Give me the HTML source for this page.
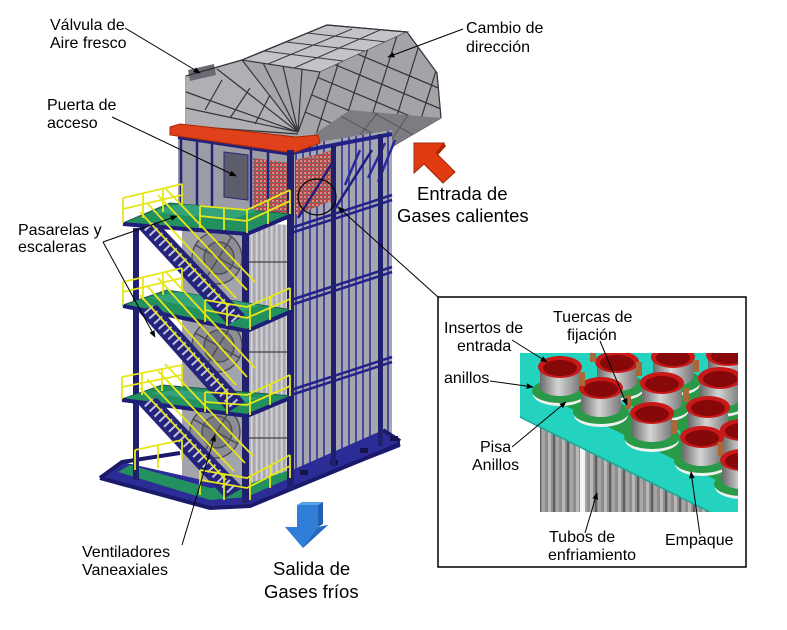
<!DOCTYPE html>
<html><head><meta charset="utf-8">
<style>
html,body{margin:0;padding:0;background:#fff;}
svg{display:block;}
text{font-family:"Liberation Sans",Arial,sans-serif;fill:#000;}
</style></head><body>
<svg width="787" height="630" viewBox="0 0 787 630" xmlns="http://www.w3.org/2000/svg">
<defs>
<marker id="ar" viewBox="0 0 10 10" refX="9" refY="5" markerWidth="8" markerHeight="7" orient="auto"><path d="M0,1 L10,5 L0,9 z" fill="#000"/></marker>
<clipPath id="hoodR"><polygon points="320,72 407,32 437,73 441,118 350,110 310,137 298,132"/></clipPath>
<clipPath id="hoodU"><polygon points="310,137 350,110 441,118 400,142 367,162"/></clipPath>
<clipPath id="rfc"><polygon points="291,150 318,142 392,130 392,442 291,488"/></clipPath>
<clipPath id="inset"><rect x="520" y="353" width="218" height="159"/></clipPath>
<pattern id="brick" width="4" height="4" patternUnits="userSpaceOnUse"><rect width="4" height="4" fill="#b44646"/><rect width="2" height="2" fill="#d88a8a"/><rect x="2" y="2" width="1" height="1" fill="#5a9a9a"/></pattern>
<pattern id="tubes" width="14" height="10" patternUnits="userSpaceOnUse"><rect width="14" height="10" fill="#8e8e8e"/><rect x="2" width="3" height="10" fill="#b8b8b8"/><rect x="7" width="2" height="10" fill="#5e5e5e"/><rect x="10" width="3" height="10" fill="#a6a6a6"/></pattern>
<pattern id="panel" width="5" height="10" patternUnits="userSpaceOnUse"><rect width="5" height="10" fill="#b6b6bc"/><rect x="1" width="1.5" height="10" fill="#d2d2d6"/><rect x="3.5" width="1" height="10" fill="#9a9aa2"/></pattern>
<linearGradient id="cyl" x1="0" x2="1" y1="0" y2="0"><stop offset="0" stop-color="#6a6a6a"/><stop offset="0.45" stop-color="#d4d4d4"/><stop offset="1" stop-color="#7a7a7a"/></linearGradient>
</defs>

<!-- ===== HOOD ===== -->
<polygon points="186,76 242,60 327,25 407,32 437,73 441,118 400,142 367,162 310,137 298,138 186,126" fill="#a8a8ac" stroke="#4a4a52" stroke-width="1"/>
<!-- left box face -->
<polygon points="186,76 242,60 298,132 186,126" fill="#b0b0b4"/>
<!-- fan face -->
<polygon points="242,60 320,72 298,132" fill="#a6a6aa"/>
<!-- top face -->
<polygon points="242,60 327,25 407,32 320,72" fill="#c4c4c8" stroke="#3a3a42" stroke-width="1.2"/>
<g stroke="#3a3a42" stroke-width="1" fill="none">
<line x1="264" y1="51" x2="343" y2="61"/><line x1="286" y1="42" x2="365" y2="51"/><line x1="307" y1="33" x2="386" y2="42"/>
<line x1="268" y1="64" x2="352" y2="29"/><line x1="294" y1="68" x2="380" y2="30"/>
</g>
<!-- right face -->
<polygon points="320,72 407,32 437,73 441,118 350,110 310,137 298,132" fill="#a4a4a8"/>
<!-- underside -->
<polygon points="310,137 350,110 441,118 400,142 367,162" fill="#7c7c82"/>
<polygon points="188,70 214,64 216,75 190,81" fill="#6a6a72"/>
<g stroke="#34343c" stroke-width="1.2" fill="none">
<line x1="298" y1="132" x2="186" y2="92"/><line x1="298" y1="132" x2="186" y2="108"/>
<line x1="298" y1="132" x2="217" y2="69"/><line x1="298" y1="132" x2="242" y2="60"/>
<line x1="298" y1="132" x2="263" y2="63"/><line x1="298" y1="132" x2="283" y2="66"/>
<line x1="298" y1="132" x2="302" y2="69"/><line x1="298" y1="132" x2="320" y2="72"/>
<line x1="186" y1="126" x2="298" y2="134"/>
<line x1="205" y1="110" x2="222" y2="80"/><line x1="230" y1="118" x2="250" y2="88"/><line x1="255" y1="124" x2="270" y2="95"/>
<polyline points="186,76 242,60 327,25 407,32 437,73 441,118"/>
</g>
<g clip-path="url(#hoodR)" stroke="#34343c" stroke-width="1.2">
<line x1="300" y1="30" x2="460" y2="97"/><line x1="300" y1="50" x2="460" y2="117"/><line x1="300" y1="70" x2="460" y2="137"/>
<line x1="300" y1="90" x2="460" y2="157"/><line x1="300" y1="110" x2="460" y2="177"/>
<line x1="355" y1="10" x2="305" y2="170"/><line x1="380" y1="10" x2="330" y2="170"/><line x1="405" y1="10" x2="355" y2="170"/>
<line x1="430" y1="10" x2="380" y2="170"/><line x1="455" y1="10" x2="405" y2="170"/>
</g>
<g clip-path="url(#hoodU)" stroke="#55555c" stroke-width="1">
<line x1="330" y1="110" x2="420" y2="160"/><line x1="360" y1="105" x2="440" y2="150"/>
<line x1="380" y1="110" x2="340" y2="160"/><line x1="410" y1="112" x2="375" y2="165"/>
</g>

<!-- ===== TOWER right face ===== -->
<polygon points="291,150 318,142 392,130 392,442 291,488" fill="#a6a6ae"/>
<g clip-path="url(#rfc)" stroke="#2a2a9a" stroke-width="1.5">
<line x1="296" y1="120" x2="296" y2="500"/><line x1="303" y1="120" x2="303" y2="500"/><line x1="310" y1="120" x2="310" y2="500"/>
<line x1="317" y1="120" x2="317" y2="500"/><line x1="324" y1="120" x2="324" y2="500"/><line x1="342" y1="120" x2="342" y2="500"/>
<line x1="349" y1="120" x2="349" y2="500"/><line x1="356" y1="120" x2="356" y2="500"/><line x1="363" y1="120" x2="363" y2="500"/>
<line x1="370" y1="120" x2="370" y2="500"/><line x1="388" y1="120" x2="388" y2="500"/>
<polygon points="296,160 334,150 334,200 296,215" fill="url(#brick)" stroke="none"/>
<line x1="298" y1="218" x2="334" y2="160" stroke="#1e1e80" stroke-width="2.5"/>
<line x1="334" y1="210" x2="372" y2="150" stroke="#1e1e80" stroke-width="2.5"/>
</g>
<g stroke="#22228a" stroke-width="2.5">
<line x1="291" y1="153" x2="392" y2="134" stroke-width="4"/>
<line x1="291" y1="228" x2="392" y2="195"/><line x1="291" y1="233" x2="392" y2="200"/>
<line x1="291" y1="300" x2="392" y2="267"/><line x1="291" y1="305" x2="392" y2="272"/>
<line x1="291" y1="390" x2="392" y2="357"/><line x1="291" y1="395" x2="392" y2="362"/>
<line x1="291" y1="487" x2="392" y2="441" stroke-width="4"/>
</g>
<g stroke="#2a2aa0" stroke-width="2.5">
<line x1="385" y1="143" x2="368" y2="178"/><line x1="395" y1="140" x2="378" y2="182"/><line x1="360" y1="150" x2="345" y2="185"/>
</g>

<!-- ===== upper box left face ===== -->
<polygon points="178,133 291,150 291,218 178,207" fill="#9c9ca6"/>
<polygon points="253,158 289,163 289,214 253,210" fill="url(#brick)"/>
<polygon points="224,152 248,155 248,200 224,197" fill="#5c5c6c" stroke="#2a2a70" stroke-width="1"/>
<g stroke="#22227a" stroke-width="2.5">
<line x1="181" y1="135" x2="181" y2="207"/><line x1="197" y1="138" x2="197" y2="209"/><line x1="212" y1="140" x2="212" y2="210"/>
<line x1="251" y1="146" x2="251" y2="214"/><line x1="268" y1="148" x2="268" y2="216"/>
<line x1="178" y1="137" x2="291" y2="154" stroke-width="4"/>
</g>

<!-- red band -->
<polygon points="170,127 180,124 296,137 318,135 320,143 293,153 170,135" fill="#e0401a" stroke="#a82808" stroke-width="1"/>

<!-- ===== lower left region ===== -->
<polygon points="182,207 243,215 243,495 182,478" fill="#a3a3ab"/>
<polygon points="248,222 288,225 288,490 248,495" fill="url(#panel)"/>
<line x1="248" y1="438" x2="288" y2="438" stroke="#404048" stroke-width="1.2"/>
<line x1="248" y1="352" x2="288" y2="352" stroke="#404048" stroke-width="1.2"/>
<line x1="248" y1="262" x2="288" y2="262" stroke="#404048" stroke-width="1.2"/>
<g stroke="#4a4a54" stroke-width="1.3">
<ellipse cx="217" cy="258" rx="25" ry="26" fill="#8e8e96"/>
<ellipse cx="217" cy="346" rx="25" ry="26" fill="#8e8e96"/>
<ellipse cx="215" cy="432" rx="25" ry="26" fill="#8e8e96"/>
<ellipse cx="219" cy="258" rx="15" ry="16" fill="#7a7a82"/>
<ellipse cx="219" cy="346" rx="15" ry="16" fill="#7a7a82"/>
<ellipse cx="217" cy="432" rx="15" ry="16" fill="#7a7a82"/>
<line x1="195" y1="245" x2="240" y2="270"/><line x1="205" y1="280" x2="232" y2="236"/>
<line x1="195" y1="333" x2="240" y2="358"/><line x1="205" y1="368" x2="232" y2="324"/>
<line x1="193" y1="419" x2="238" y2="444"/><line x1="203" y1="454" x2="230" y2="410"/>
</g>

<!-- ===== base ===== -->
<polygon points="100,478 122,462 247,490 383,430 400,440 400,447 247,507 210,508" fill="#2c2c96"/>
<polygon points="118,472 130,465 210,488 245,485 290,470 290,478 247,497 210,500" fill="#23905f"/>
<g stroke="#1a1a6a" stroke-width="4" fill="none">
<polyline points="100,478 210,508 250,506 400,444"/>
<polyline points="100,478 122,462 180,453"/>
<polyline points="383,430 400,441"/>
</g>
<g fill="#15154a">
<rect x="300" y="470" width="8" height="5"/><rect x="330" y="460" width="8" height="5"/><rect x="360" y="448" width="8" height="5"/><rect x="390" y="436" width="8" height="5"/>
</g>

<!-- ===== columns ===== -->
<g fill="#20206e">
<rect x="133" y="228" width="6" height="252"/>
<rect x="242" y="215" width="7" height="288"/>
<rect x="287" y="150" width="7" height="340"/>
<rect x="331" y="144" width="5" height="322"/>
<rect x="378" y="134" width="5" height="312"/>
</g>

<!-- ===== platforms ===== -->
<g fill="#23905f" stroke="#1a5a4a" stroke-width="1">
<polygon points="123,223 247,233 292,214 170,203"/>
<polygon points="123,305 247,330 292,310 167,290"/>
<polygon points="122,399 247,415 292,396 162,385"/>
</g>
<g fill="#3fb08a" opacity="0.6">
<polygon points="150,212 230,220 260,210 180,204"/>
<polygon points="150,298 230,316 260,305 180,292"/>
<polygon points="150,393 230,405 260,398 180,390"/>
</g>
<g stroke="#1e1e78" stroke-width="4" fill="none">
<polyline points="123,224 247,234 292,215"/>
<polyline points="123,306 247,331 292,311"/>
<polyline points="122,400 247,416 292,397"/>
</g>

<!-- ===== stairs ===== -->
<g fill="#24247a">
<polygon points="138,228 157,222 245,315 228,325"/>
<polygon points="138,311 157,305 245,402 228,412"/>
<polygon points="138,404 157,398 243,488 225,498"/>
</g>
<g stroke="#c0c0e6" stroke-width="11" stroke-dasharray="2 5" fill="none">
<line x1="148" y1="226" x2="236" y2="319"/>
<line x1="148" y1="309" x2="236" y2="406"/>
<line x1="148" y1="402" x2="234" y2="492"/>
</g>

<!-- ===== yellow railings ===== -->
<g stroke="#e6e61a" stroke-width="1.8" fill="none">
<line x1="147" y1="203" x2="236" y2="298"/><line x1="158" y1="195" x2="247" y2="290"/><line x1="140" y1="212" x2="228" y2="306"/><line x1="165" y1="188" x2="255" y2="282"/>
<line x1="147" y1="286" x2="236" y2="385"/><line x1="158" y1="278" x2="247" y2="377"/><line x1="140" y1="295" x2="228" y2="393"/><line x1="165" y1="271" x2="255" y2="368"/>
<line x1="147" y1="379" x2="234" y2="471"/><line x1="158" y1="371" x2="245" y2="463"/><line x1="140" y1="388" x2="226" y2="480"/><line x1="165" y1="364" x2="253" y2="456"/>
<polyline points="123,198 182,184"/><polyline points="123,209 182,195"/>
<line x1="123" y1="198" x2="123" y2="223"/><line x1="143" y1="193" x2="143" y2="218"/><line x1="163" y1="188" x2="163" y2="212"/><line x1="182" y1="184" x2="182" y2="205"/>
<polyline points="200,206 247,210 290,190"/><polyline points="200,216 247,221 290,201"/>
<line x1="200" y1="206" x2="200" y2="228"/><line x1="224" y1="208" x2="224" y2="230"/><line x1="247" y1="210" x2="247" y2="233"/><line x1="268" y1="200" x2="268" y2="224"/><line x1="290" y1="190" x2="290" y2="214"/>
<polyline points="123,282 182,268"/><polyline points="123,292 182,278"/>
<line x1="123" y1="282" x2="123" y2="305"/><line x1="143" y1="277" x2="143" y2="300"/><line x1="163" y1="272" x2="163" y2="295"/><line x1="182" y1="268" x2="182" y2="292"/>
<polyline points="205,300 247,307 290,288"/><polyline points="205,310 247,318 290,299"/>
<line x1="205" y1="300" x2="205" y2="322"/><line x1="227" y1="304" x2="227" y2="326"/><line x1="250" y1="306" x2="250" y2="330"/><line x1="270" y1="297" x2="270" y2="320"/><line x1="290" y1="288" x2="290" y2="310"/>
<polyline points="122,377 182,365"/><polyline points="122,387 182,375"/>
<line x1="122" y1="377" x2="122" y2="399"/><line x1="142" y1="373" x2="142" y2="395"/><line x1="162" y1="369" x2="162" y2="391"/><line x1="182" y1="365" x2="182" y2="387"/>
<polyline points="205,392 247,395 290,375"/><polyline points="205,402 247,405 290,386"/>
<line x1="205" y1="392" x2="205" y2="412"/><line x1="227" y1="393" x2="227" y2="414"/><line x1="250" y1="394" x2="250" y2="415"/><line x1="270" y1="384" x2="270" y2="405"/><line x1="290" y1="375" x2="290" y2="396"/>
<polyline points="135,450 182,440"/><line x1="135" y1="450" x2="135" y2="470"/><line x1="158" y1="445" x2="158" y2="468"/><line x1="182" y1="440" x2="182" y2="460"/>
<polyline points="200,470 247,478 290,455"/><polyline points="200,480 247,488 290,466"/>
<line x1="200" y1="470" x2="200" y2="495"/><line x1="224" y1="474" x2="224" y2="500"/><line x1="250" y1="477" x2="250" y2="500"/><line x1="270" y1="466" x2="270" y2="488"/><line x1="290" y1="455" x2="290" y2="478"/>
</g>

<ellipse cx="317" cy="197" rx="19" ry="18" fill="none" stroke="#000" stroke-width="1.2"/>

<!-- ===== red arrow ===== -->
<polygon points="414,143 444,143 436,153 455,172 443,183 424,164 414,173" fill="#e03a10" stroke="#a02808" stroke-width="1"/>
<polygon points="444,143 446,146 438,155 436,153" fill="#b02808"/>
<!-- ===== blue arrow ===== -->
<polygon points="297,505 302,502 323,502 318,505" fill="#5aa0e8"/>
<polygon points="318,505 323,502 323,524 318,527" fill="#1f60b0"/>
<rect x="297" y="505" width="21" height="22" fill="#2f7fd8"/>
<polygon points="285,527 297,527 318,527 328,525 303,548" fill="#2f7fd8"/>
<polygon points="318,527 328,525 303,548" fill="#2468c0"/>

<!-- ===== INSET ===== -->
<rect x="438" y="297" width="308" height="270" fill="#fff" stroke="#000" stroke-width="1.5"/>
<g clip-path="url(#inset)">
<rect x="520" y="353" width="218" height="159" fill="#fff"/>
<polygon points="540,427 710,512 540,512" fill="url(#tubes)"/>
<rect x="580" y="430" width="5" height="90" fill="#f4f4f4"/>
<polygon points="520,353 738,353 738,512 710,512 520,417" fill="#24d2c0"/>
<line x1="520" y1="417" x2="710" y2="512" stroke="#1aa898" stroke-width="1.5"/>
<g stroke="#2a9a48" stroke-width="22" fill="none">
<line x1="560" y1="391" x2="745" y2="482"/>
<line x1="617" y1="386" x2="745" y2="452"/>
<line x1="673" y1="381" x2="745" y2="418"/>
<line x1="728" y1="379" x2="745" y2="388"/>
<line x1="585" y1="402" x2="630" y2="378"/>
<line x1="635" y1="426" x2="690" y2="400"/>
<line x1="685" y1="450" x2="740" y2="425"/>
</g>
<g><ellipse cx="728" cy="382" rx="27" ry="12" fill="#f0f0f0"/><ellipse cx="728" cy="379" rx="28" ry="12" fill="#2a9a48"/><rect x="708" y="355" width="40" height="20" fill="url(#cyl)"/><ellipse cx="728" cy="375" rx="20" ry="9" fill="url(#cyl)"/><ellipse cx="728" cy="355" rx="22" ry="11" fill="#c81818"/><ellipse cx="728" cy="356" rx="17" ry="8" fill="#860808"/></g>
<g><ellipse cx="673" cy="384" rx="27" ry="12" fill="#f0f0f0"/><ellipse cx="673" cy="381" rx="28" ry="12" fill="#2a9a48"/><rect x="653" y="357" width="40" height="20" fill="url(#cyl)"/><ellipse cx="673" cy="377" rx="20" ry="9" fill="url(#cyl)"/><ellipse cx="673" cy="357" rx="22" ry="11" fill="#c81818"/><ellipse cx="673" cy="358" rx="17" ry="8" fill="#860808"/></g>
<g><ellipse cx="617" cy="389" rx="27" ry="12" fill="#f0f0f0"/><ellipse cx="617" cy="386" rx="28" ry="12" fill="#2a9a48"/><rect x="597" y="362" width="40" height="20" fill="url(#cyl)"/><ellipse cx="617" cy="382" rx="20" ry="9" fill="url(#cyl)"/><ellipse cx="617" cy="362" rx="22" ry="11" fill="#c81818"/><ellipse cx="617" cy="363" rx="17" ry="8" fill="#860808"/></g>
<g><ellipse cx="560" cy="394" rx="27" ry="12" fill="#f0f0f0"/><ellipse cx="560" cy="391" rx="28" ry="12" fill="#2a9a48"/><rect x="540" y="367" width="40" height="20" fill="url(#cyl)"/><ellipse cx="560" cy="387" rx="20" ry="9" fill="url(#cyl)"/><ellipse cx="560" cy="367" rx="22" ry="11" fill="#c81818"/><ellipse cx="560" cy="368" rx="17" ry="8" fill="#860808"/></g>
<g><ellipse cx="720" cy="405" rx="27" ry="12" fill="#f0f0f0"/><ellipse cx="720" cy="402" rx="28" ry="12" fill="#2a9a48"/><rect x="700" y="378" width="40" height="20" fill="url(#cyl)"/><ellipse cx="720" cy="398" rx="20" ry="9" fill="url(#cyl)"/><ellipse cx="720" cy="378" rx="22" ry="11" fill="#c81818"/><ellipse cx="720" cy="379" rx="17" ry="8" fill="#860808"/></g>
<g><ellipse cx="662" cy="410" rx="27" ry="12" fill="#f0f0f0"/><ellipse cx="662" cy="407" rx="28" ry="12" fill="#2a9a48"/><rect x="642" y="383" width="40" height="20" fill="url(#cyl)"/><ellipse cx="662" cy="403" rx="20" ry="9" fill="url(#cyl)"/><ellipse cx="662" cy="383" rx="22" ry="11" fill="#c81818"/><ellipse cx="662" cy="384" rx="17" ry="8" fill="#860808"/></g>
<g><ellipse cx="601" cy="415" rx="27" ry="12" fill="#f0f0f0"/><ellipse cx="601" cy="412" rx="28" ry="12" fill="#2a9a48"/><rect x="581" y="388" width="40" height="20" fill="url(#cyl)"/><ellipse cx="601" cy="408" rx="20" ry="9" fill="url(#cyl)"/><ellipse cx="601" cy="388" rx="22" ry="11" fill="#c81818"/><ellipse cx="601" cy="389" rx="17" ry="8" fill="#860808"/></g>
<rect x="579" y="372" width="6" height="14" fill="#a86838"/><rect x="590" y="350" width="6" height="12" fill="#a86838"/><rect x="636" y="362" width="6" height="14" fill="#a86838"/><rect x="693" y="360" width="6" height="12" fill="#a86838"/>
<g><ellipse cx="708" cy="434" rx="27" ry="12" fill="#f0f0f0"/><ellipse cx="708" cy="431" rx="28" ry="12" fill="#2a9a48"/><rect x="688" y="407" width="40" height="20" fill="url(#cyl)"/><ellipse cx="708" cy="427" rx="20" ry="9" fill="url(#cyl)"/><ellipse cx="708" cy="407" rx="22" ry="11" fill="#c81818"/><ellipse cx="708" cy="408" rx="17" ry="8" fill="#860808"/></g>
<rect x="625" y="395" width="6" height="14" fill="#a86838"/><rect x="683" y="388" width="6" height="14" fill="#a86838"/>
<g><ellipse cx="652" cy="440" rx="27" ry="12" fill="#f0f0f0"/><ellipse cx="652" cy="437" rx="28" ry="12" fill="#2a9a48"/><rect x="632" y="413" width="40" height="20" fill="url(#cyl)"/><ellipse cx="652" cy="433" rx="20" ry="9" fill="url(#cyl)"/><ellipse cx="652" cy="413" rx="22" ry="11" fill="#c81818"/><ellipse cx="652" cy="414" rx="17" ry="8" fill="#860808"/></g>
<g><ellipse cx="742" cy="457" rx="27" ry="12" fill="#f0f0f0"/><ellipse cx="742" cy="454" rx="28" ry="12" fill="#2a9a48"/><rect x="722" y="430" width="40" height="20" fill="url(#cyl)"/><ellipse cx="742" cy="450" rx="20" ry="9" fill="url(#cyl)"/><ellipse cx="742" cy="430" rx="22" ry="11" fill="#c81818"/><ellipse cx="742" cy="431" rx="17" ry="8" fill="#860808"/></g>
<rect x="671" y="420" width="6" height="14" fill="#a86838"/>
<g><ellipse cx="702" cy="464" rx="27" ry="12" fill="#f0f0f0"/><ellipse cx="702" cy="461" rx="28" ry="12" fill="#2a9a48"/><rect x="682" y="437" width="40" height="20" fill="url(#cyl)"/><ellipse cx="702" cy="457" rx="20" ry="9" fill="url(#cyl)"/><ellipse cx="702" cy="437" rx="22" ry="11" fill="#c81818"/><ellipse cx="702" cy="438" rx="17" ry="8" fill="#860808"/></g>
<rect x="718" y="442" width="6" height="14" fill="#a86838"/>
<g><ellipse cx="742" cy="487" rx="27" ry="12" fill="#f0f0f0"/><ellipse cx="742" cy="484" rx="28" ry="12" fill="#2a9a48"/><rect x="722" y="460" width="40" height="20" fill="url(#cyl)"/><ellipse cx="742" cy="480" rx="20" ry="9" fill="url(#cyl)"/><ellipse cx="742" cy="460" rx="22" ry="11" fill="#c81818"/><ellipse cx="742" cy="461" rx="17" ry="8" fill="#860808"/></g>
</g>

<!-- ===== leader lines ===== -->
<g stroke="#000" stroke-width="1" fill="none">
<line x1="125" y1="28" x2="200" y2="73" marker-end="url(#ar)"/>
<line x1="112" y1="117" x2="236" y2="176" marker-end="url(#ar)"/>
<line x1="463" y1="29" x2="388" y2="57" marker-end="url(#ar)"/>
<line x1="103" y1="242" x2="177" y2="216" marker-end="url(#ar)"/>
<line x1="103" y1="242" x2="155" y2="337" marker-end="url(#ar)"/>
<line x1="182" y1="545" x2="215" y2="435" marker-end="url(#ar)"/>
<line x1="438" y1="297" x2="338" y2="207" marker-end="url(#ar)"/>
<line x1="512" y1="340" x2="547" y2="362" marker-end="url(#ar)"/>
<line x1="600" y1="341" x2="627" y2="405" marker-end="url(#ar)"/>
<line x1="490" y1="381" x2="533" y2="387" marker-end="url(#ar)"/>
<line x1="512" y1="447" x2="566" y2="402" marker-end="url(#ar)"/>
<line x1="585" y1="533" x2="597" y2="493" marker-end="url(#ar)"/>
<line x1="700" y1="535" x2="691" y2="472" marker-end="url(#ar)"/>
</g>

<!-- ===== labels ===== -->
<g font-size="16">
<text x="50" y="30">Válvula de</text>
<text x="50" y="48">Aire fresco</text>
<text x="47" y="110">Puerta de</text>
<text x="47" y="128">acceso</text>
<text x="466" y="33">Cambio de</text>
<text x="466" y="52">dirección</text>
<text x="18" y="235">Pasarelas y</text>
<text x="18" y="252">escaleras</text>
<text x="82" y="557">Ventiladores</text>
<text x="82" y="575">Vaneaxiales</text>
<text x="444" y="333">Insertos de</text>
<text x="457" y="351">entrada</text>
<text x="553" y="322">Tuercas de</text>
<text x="567" y="340">fijación</text>
<text x="444" y="383">anillos</text>
<text x="480" y="452">Pisa</text>
<text x="472" y="470">Anillos</text>
<text x="549" y="542">Tubos de</text>
<text x="548" y="560">enfriamiento</text>
<text x="665" y="545">Empaque</text>
</g>
<g font-size="18.5">
<text x="417" y="200">Entrada de</text>
<text x="397" y="222">Gases calientes</text>
<text x="273" y="575">Salida de</text>
<text x="264" y="598">Gases fríos</text>
</g>
</svg>
</body></html>
